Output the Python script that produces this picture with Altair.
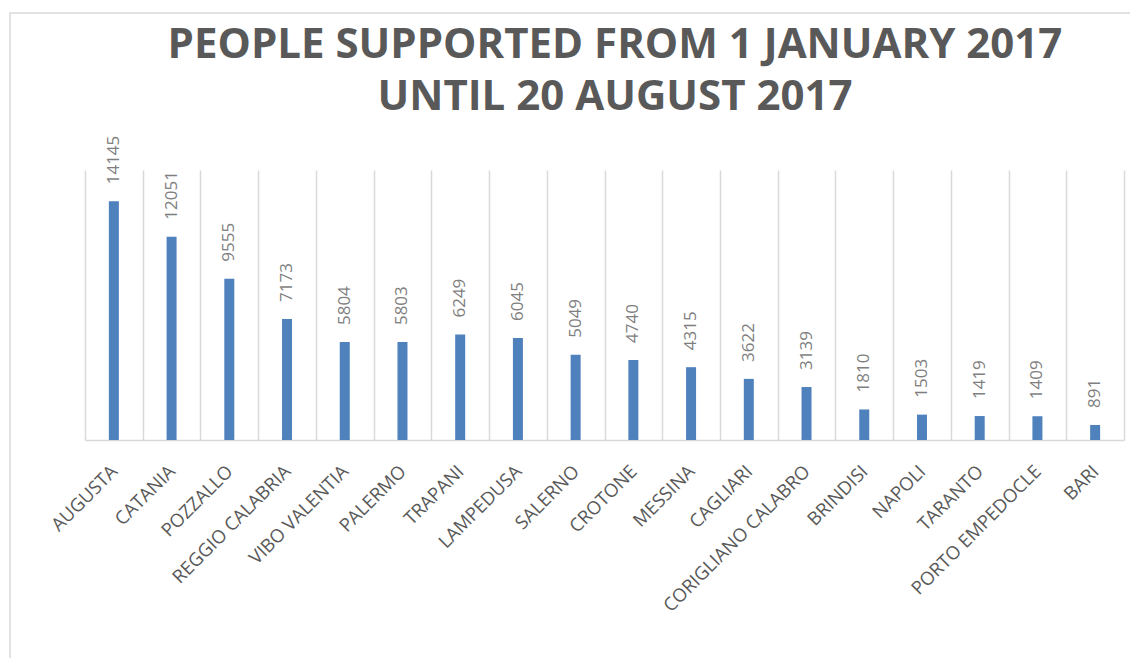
import altair as alt
import pandas as pd

cities = ["AUGUSTA", "CATANIA", "POZZALLO", "REGGIO CALABRIA", "VIBO VALENTIA",
          "PALERMO", "TRAPANI", "LAMPEDUSA", "SALERNO", "CROTONE", "MESSINA",
          "CAGLIARI", "CORIGLIANO CALABRO", "BRINDISI", "NAPOLI", "TARANTO",
          "PORTO EMPEDOCLE", "BARI"]
values = [14145, 12051, 9555, 7173, 5804, 5803, 6249, 6045, 5049, 4740, 4315,
          3622, 3139, 1810, 1503, 1419, 1409, 891]
title_lines = ["PEOPLE SUPPORTED FROM 1 JANUARY 2017", "UNTIL 20 AUGUST 2017"]

df = pd.DataFrame({"city": cities, "value": values})

GRID = "#d9d9d9"

x_enc = alt.X(
    "city:N", sort=cities,
    scale=alt.Scale(paddingInner=0, paddingOuter=0),
    axis=alt.Axis(
        title=None, labelAngle=-45, labelAlign="right", labelBaseline="middle",
        labelPadding=28, labelFont="Open Sans", labelFontSize=18.5,
        labelColor="#595959", labelOverlap=False, labelLimit=400,
        ticks=False, grid=True, gridColor=GRID, gridWidth=1.5,
        tickBand="extent", domainColor=GRID, domainWidth=1.5,
    ),
)
y_enc = alt.Y("value:Q", scale=alt.Scale(domain=[0, 16000]), axis=None)

base = alt.Chart(df)
bars = base.mark_bar(size=10, color="#4F81BD").encode(x=x_enc, y=y_enc)
labels = base.mark_text(
    angle=270, align="left", baseline="middle", dx=17,
    font="Open Sans", fontSize=17, color="#7f7f7f",
).encode(x=x_enc, y=y_enc, text="value:Q")

one = pd.DataFrame({"k": [0]})
frame = alt.Chart(one).mark_rect(fillOpacity=0, stroke=GRID, strokeWidth=1.5).encode(
    x=alt.value(-75), x2=alt.value(1100), y=alt.value(-157), y2=alt.value(600)
)

t1 = alt.Chart(pd.DataFrame({"t": [title_lines[0]]})).mark_text(
    font="Open Sans", fontWeight="bold", fontSize=42, color="#595959",
    align="center", baseline="alphabetic",
).encode(text="t:N", x=alt.value(530), y=alt.value(-112))
t2 = alt.Chart(pd.DataFrame({"t": [title_lines[1]]})).mark_text(
    font="Open Sans", fontWeight="bold", fontSize=42, color="#595959",
    align="center", baseline="alphabetic",
).encode(text="t:N", x=alt.value(530), y=alt.value(-60))

chart = alt.layer(frame, bars, labels, t1, t2).properties(
    width=1039, height=270,
    autosize=alt.AutoSizeParams(type="none"),
    padding={"left": 77, "top": 162, "right": 6, "bottom": 218},
).configure_view(stroke=None)

chart.save("out.html", embed_options={"renderer": "svg", "actions": False})
